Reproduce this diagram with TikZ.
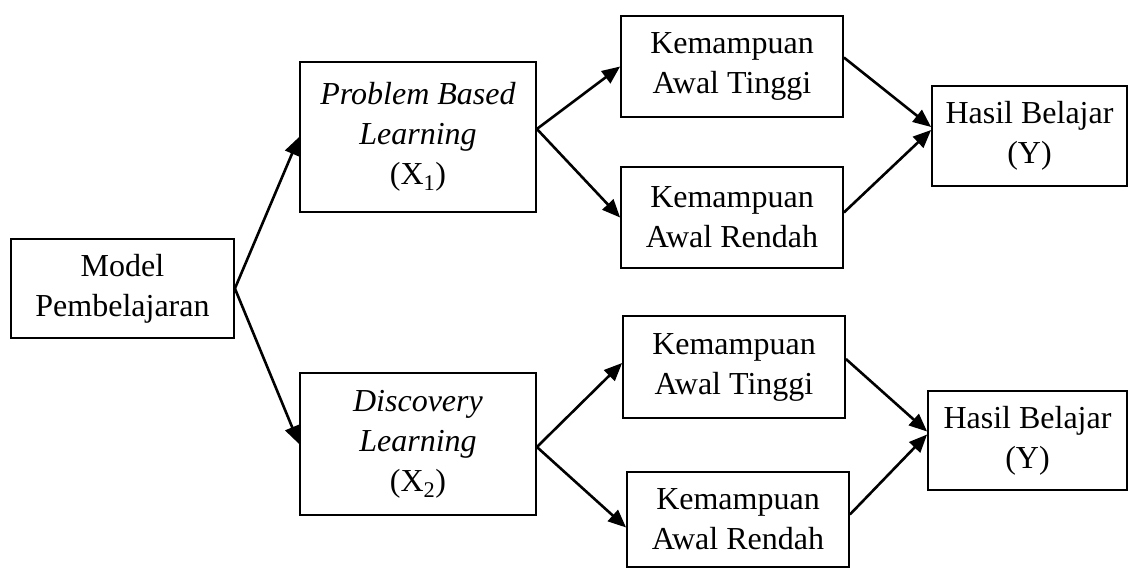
\documentclass[tikz,border=0pt]{standalone}
\usepackage{fontspec}
\setmainfont{Liberation Serif}
\usetikzlibrary{arrows.meta}
\begin{document}
\begin{tikzpicture}[x=1pt,y=-1pt,
  box/.style={draw,line width=1.8pt,align=center,inner sep=0pt,font=\fontsize{32}{40}\selectfont},
  arr/.style={line width=2.6pt,-{Triangle[length=18pt,width=15pt]}}]
\useasboundingbox (0,0) rectangle (1128,568);
\fill[white] (0,0) rectangle (1128,568);
\node[box,minimum width=223pt,minimum height=99pt] (model) at (122.5,288.5) {Model\\Pembelajaran};
\node[box,minimum width=236pt,minimum height=150pt] (pbl) at (418,137) {\textit{Problem Based}\\\textit{Learning}\\(X\textsubscript{1})};
\node[box,minimum width=236pt,minimum height=142pt] (disc) at (418,444) {\textit{Discovery}\\\textit{Learning}\\(X\textsubscript{2})};
\node[box,minimum width=222pt,minimum height=101pt] (kat1) at (732,66.5) {Kemampuan\\Awal Tinggi};
\node[box,minimum width=222pt,minimum height=101pt] (kar1) at (732,217.5) {Kemampuan\\Awal Rendah};
\node[box,minimum width=222pt,minimum height=102pt] (kat2) at (734,367) {Kemampuan\\Awal Tinggi};
\node[box,minimum width=222pt,minimum height=95pt] (kar2) at (738,519.5) {Kemampuan\\Awal Rendah};
\node[box,minimum width=195pt,minimum height=100pt] (hb1) at (1029.5,136) {Hasil Belajar\\(Y)};
\node[box,minimum width=199pt,minimum height=99pt] (hb2) at (1027.5,440.5) {Hasil Belajar\\(Y)};
\draw[arr] (model.east) -- (pbl.west);
\draw[arr] (model.east) -- (disc.west);
\draw[arr] ([yshift=8pt]pbl.east) -- (kat1.west);
\draw[arr] ([yshift=8pt]pbl.east) -- (kar1.west);
\draw[arr] ([yshift=-3pt]disc.east) -- ([yshift=4pt]kat2.west);
\draw[arr] ([yshift=-3pt]disc.east) -- ([yshift=-8pt]kar2.west);
\draw[arr] ([yshift=9pt]kat1.east) -- ([yshift=9pt]hb1.west);
\draw[arr] ([yshift=5pt]kar1.east) -- ([yshift=6pt]hb1.west);
\draw[arr] ([yshift=8pt]kat2.east) -- ([yshift=9pt]hb2.west);
\draw[arr] ([yshift=5pt]kar2.east) -- ([yshift=6pt]hb2.west);
\end{tikzpicture}
\end{document}
